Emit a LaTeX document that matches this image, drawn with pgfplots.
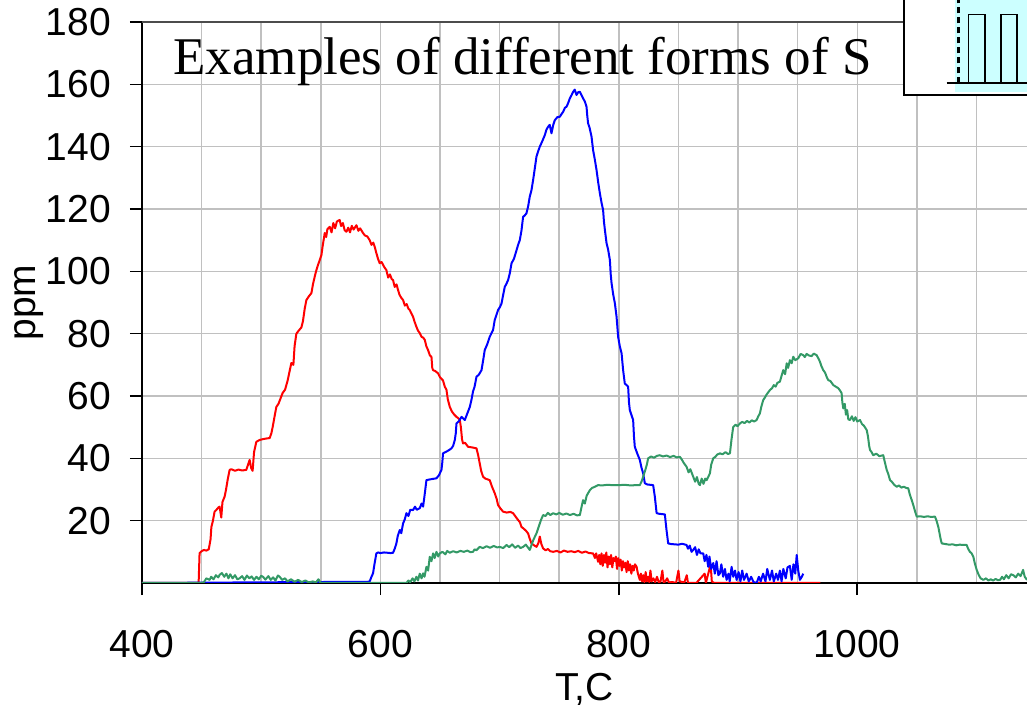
\documentclass[border=0pt]{standalone}
\usepackage{fontspec}
\setmainfont{Liberation Sans}
\newfontfamily\titlefont{Liberation Serif}
\usepackage{pgfplots}
\pgfplotsset{compat=1.18}
\definecolor{sred}{RGB}{255,0,0}
\definecolor{sblue}{RGB}{0,0,255}
\definecolor{sgreen}{RGB}{51,153,102}
\definecolor{gridgray}{RGB}{192,192,192}
\definecolor{insetcyan}{RGB}{204,255,255}
\begin{document}
\begin{tikzpicture}
\begin{axis}[
  at={(0,0)}, anchor=south west,
  scale only axis, width=442.5pt, height=280.5pt,
  xmin=400, xmax=1142.4, ymin=0, ymax=180,
  enlargelimits=false,
  axis x line*=bottom, axis y line*=left,
  axis line style={-, line width=1pt, black},
  xtick={400,600,800,1000}, xticklabels={400,600,800,1000},
  minor xtick={450,500,550,650,700,750,850,900,950,1050,1100},
  ytick={20,40,60,80,100,120,140,160,180},
  yticklabels={20,40,60,80,100,120,140,160,180},
  tick align=outside, major tick length=6pt, minor tick length=0pt,
  tick style={black, line width=0.8pt},
  grid=both,
  major grid style={gridgray, line width=0.75pt},
  minor grid style={gridgray, line width=0.75pt},
  ticklabel style={font=\fontsize{19.5}{22}\selectfont},
  xticklabel style={yshift=-14pt},
  yticklabel style={xshift=-6pt},
  xlabel={T,C}, ylabel={ppm},
  label style={font=\fontsize{19.5}{22}\selectfont},
  xlabel style={at={(axis description cs:0.5,-0.2086)}, anchor=base},
  ylabel style={at={(axis description cs:-0.1275,0.5)}, anchor=center, rotate=0},
  every axis plot/.append style={line width=1pt, line join=round},
]
% red
\addplot[sred] coordinates {
(400,0)(447.5,0)(448.3,9.6)(450,10.2)(452,10.6)(454,10.4)(456,10.8)(457.5,14)(458.2,18)(459.5,20)
(460.9,22.9)(462.5,23.5)(464,24.2)(465.1,24.5)(466.5,21)(467.5,26)(469.3,27.7)(470.5,30)(471.8,33)(473.5,36.3)
(475,36.5)(478,36)(481,36.4)(484,36.1)(487.5,36.3)(489,38)(490.3,39.5)(491.5,37)(492.8,36)(494,42)
(495.9,45.3)(498.7,45.9)(502,46.2)(505,46.4)(507.1,46.5)(508.5,48)(509.6,50)(511,53)(512.7,56.5)(514.5,57.5)
(516,59)(518,61)(520,62)(522.2,65)(523.5,67.4)(525.3,70.6)(527,70)(528,76)(529.5,80)(531.5,81)
(533.7,82)(535,84)(536.5,88)(537.9,90.8)(540,92)(542.1,93)(543.5,96)(544.9,98.3)(546,100)(547.6,102)
(549,103.5)(550.5,105.2)(551.5,108)(553.3,112.3)(554.5,111)(555.5,113.5)(557.5,114.3)(559,112.5)(560.5,115.5)(562,113.8)
(563.5,116)(565.8,116.5)(567,114.5)(568.5,115.5)(570,113.2)(571.5,112.7)(573,114)(574.5,112.5)(576,114.6)(577.5,113.4)
(579.9,114.8)(581.5,113)(583,113.8)(585.4,112.3)(587,111.5)(589,111.2)(591,110)(592.5,108.5)(594,109.2)(595.2,107.9)
(596.5,106)(598,104)(599.4,102.6)(601,103)(603,101.5)(605,100.4)(606.5,98)(608,99)(609.5,97.5)(610.6,97.2)
(612,95)(613.5,95.8)(614.8,94)(616,92.5)(617.5,91.5)(619,90.8)(620.5,89)(622,89.5)(623.5,88)(624.6,87.6)
(626,86.5)(627.4,85.4)(628.5,84)(630.2,82.2)(631.5,81)(633,80.2)(634.5,79)(636,78.7)(637.2,78)(638.5,76)
(640,74.7)(641.5,73)(642.8,72.6)(643.5,69)(644.2,68.3)(646,68)(648.3,67.3)(650,66)(652.5,65)(654,63)
(655.4,62)(656.5,59)(658.2,56.5)(660,55)(662,54)(663.8,53.3)(665,53)(666.6,52.3)(667.5,50)(668.5,46)
(669.3,44.8)(671,45)(673.5,43.7)(677,43.5)(680.6,43.2)(682,41)(683.3,38.4)(684.5,36)(686.1,34.1)(688,33.5)
(691.7,33)(693.5,31)(695.9,28.8)(697.5,27)(698.7,25)(700.5,24)(702.9,22.9)(706,22.6)(709,22.8)(711.3,22.4)
(713,21.5)(715.5,20.2)(717,19.5)(718.3,18)(720,17.5)(722,16.8)(723.9,15.9)(725,14.5)(726.7,12.7)(728.5,12.2)
(730.9,11.6)(732.5,12.8)(733.7,14.9)(735,12.5)(736.5,11.1)(738.5,10.5)(740.5,10.9)(742.5,10.2)(744.9,10)(748,10.3)
(751,9.8)(754,10.4)(757,10)(760,10.2)(763,9.9)(766,10.3)(769,9.7)(772,10.1)(775,9.6)(778.4,9.5)
(780,8)(781,9.5)(782.6,6.8)(783.5,9)(784.5,6)(785.5,9.5)(786.5,5.5)(787.5,9)(788.5,6.5)(789.5,9.8)
(790.5,5)(791.5,8.5)(792.5,6)(793.5,9)(794.5,5)(795.5,8)(796.5,7)(797.5,8.5)(798.5,4.5)(799.5,8)
(800.5,5.5)(801.5,7.5)(802.5,4)(803.5,7)(804.5,5)(805.5,6.5)(806.5,3.5)(807.5,7)(808.5,4)(809.5,6)
(810.5,3)(811.5,5.5)(812.5,4)(813.5,6)(814.9,5.2)(816,3)(817.6,1)(818.5,3)(819.5,0.5)(820.5,2.5)
(821.5,0.3)(822.5,3.5)(823.5,0.5)(824.5,2)(825.5,0.3)(826.5,4)(827.5,0.5)(829,1.5)(830.5,0.3)(832,2)
(833.5,0.2)(835,0.5)(836.5,4)(837.5,0.3)(839,0.5)(840.5,1.5)(842,0.2)(845,0.3)(848,0)(850,4)
(851,0.5)(855,0.2)(857,2.5)(858,0)(865,0)(872,3)(873,0)(877,6)(878,0.5)(880,0)(969,0)
};
% blue
\addplot[sblue] coordinates {
(400,0)(589.6,0.4)(591,0.5)(592.5,2)(593.8,3.1)(595,6)(596.6,9.5)(598,9.8)(600,9.6)(603,9.8)
(606,9.7)(608.5,9.6)(610.6,9.7)(612,11)(613.4,12.7)(614.5,15)(616.2,17)(617.5,16)(619,19.1)(620.5,20.5)
(621.8,22.4)(623.5,21.5)(625,23.5)(627.4,23.4)(629,24.5)(630.5,23.5)(633,24)(634.5,25.5)(635.8,24.5)(637,28)
(638.6,33)(641,33.2)(644,33.4)(647,33.6)(649,34.5)(651.2,36.3)(652,39)(652.5,41.6)(654.5,42)(657,42.5)
(659.6,43.2)(661,44)(662.4,45.9)(663.2,48)(663.8,51.2)(666,52)(668,53.3)(670.8,52.3)(672.5,54)(675,56.5)
(676.5,59)(677.7,61.5)(679,63)(680.6,66.2)(682.5,66.8)(684.8,68.3)(686,71)(687.5,74.7)(689.5,76.5)(691.7,79)
(693,80)(694.5,81.2)(695.9,84.4)(697.3,86)(698.7,87.6)(700.2,88.5)(701.6,89.7)(703,92.5)(704.3,95)(705.7,96)
(707.1,97.2)(708.6,99.5)(710,102.6)(712,104)(714.2,106.8)(715.5,108.5)(716.9,110)(718.3,113)(719.7,117.5)(721,117.9)
(722.5,118.6)(724,121)(725.3,124)(726.7,126)(728.1,129.3)(729.5,133)(730.9,136.8)(732.3,138.5)(733.7,140)(735.5,141.5)
(737.9,143.7)(739.3,145.5)(740.7,146.4)(742,147)(743.5,144.3)(745,147)(746.3,148.5)(748.5,149.5)(750.5,149.6)(752,150.5)
(753.3,151.2)(754.8,152.5)(756.1,152.8)(757.5,154)(758.9,155.5)(760.3,156.5)(761.7,157.6)(763,158.3)(764.5,156.6)(766,157.5)
(767.3,157.6)(768.7,156.5)(770,155.5)(771.5,154.5)(772.9,152.8)(773.5,150)(774.2,147.5)(775.5,146)(777.1,143.2)(778.4,138.9)
(779.8,136)(781.3,132.5)(782.7,128.5)(784.1,125)(785.5,122)(786.8,119.7)(787.5,116)(788.3,113.3)(789.7,109)(791,107)
(792.5,103.6)(793.2,99)(793.9,96.2)(795.3,92.5)(796.7,89.7)(798.1,85.4)(798.8,82)(799.4,79)(800.8,76)(802.3,73.7)
(803.6,68.3)(805,64)(806.5,63.5)(807.8,63)(808.5,58)(809.2,55.5)(810.5,54)(812,52.3)(812.7,47)(813.4,43.7)
(815.5,41.5)(817.6,39.5)(819,37)(820.4,35.2)(821.8,32)(824,31.6)(826.5,31.5)(828.8,31.4)(830.2,27.7)(831.7,22.4)
(834,22.2)(836.5,22.1)(838.6,22)(840,17)(841.4,12.7)(844,12.5)(847,12.4)(850,12.3)(853,12.6)(856.8,12.2)
(858,11)(859.5,12)(861,10)(862.4,10.6)(864,11.5)(865.5,9)(867,10.8)(868.5,9.5)(870.8,9.5)(872,7)
(873.5,9)(875,5.2)(876,8.5)(877.5,4.5)(879.2,6.4)(880.5,3)(882,7)(883.5,2.5)(884.8,3.1)(886,6)
(887.5,2)(889,4.5)(890.4,1)(892,3)(893,0.5)(894.6,5.2)(896,2)(897.5,4)(898.8,1)(900.5,3.5)
(902,0.5)(903.5,4)(905,1)(907.2,3)(909,0.5)(911,2)(913,0.3)(915.6,0)(917.5,2)(919,0.5)
(921,3)(923,0.5)(924.5,4.5)(926.7,1)(928.5,4)(930,0.5)(932,3)(933.5,1)(935.1,4)(936.5,0.5)
(938,4.5)(940,1.5)(941.5,5)(943.5,5.5)(945,1)(946.5,6)(948,3)(949.2,9)(950.5,4)(951.9,1)
(953.5,2)(954.7,3)
};
% green
\addplot[sgreen] coordinates {
(400,0)(450,0)(452,0.3)(454,1.5)(456.7,1)(458,2)(460,1.2)(462,2.5)(464,1.8)(465.1,2.6)
(467,3.2)(469,2)(470.8,3)(472.5,1.5)(474,2.8)(476,1.5)(478,2.5)(480,1.2)(481.9,1.5)(484,2.2)
(486,1)(488,2.4)(490,1.5)(492,2.1)(494,1)(496,2)(498,1.2)(500,2.3)(501.5,2)(503.5,1.1)
(506,2.2)(508,1)(510,1.8)(512,0.8)(514,2.4)(515.5,2)(517.5,1)(520,1.5)(522,0.5)(525,1.2)
(528,0.4)(531,1)(534,0.3)(537,0.8)(540,0.2)(543.2,0.5)(546,0.2)(548,1.2)(550,0)(621.8,0)
(623.5,0.8)(625,0.3)(627,1.5)(628.5,0.5)(630.2,2)(631.5,0.8)(633,3)(634.5,1.5)(635.8,3.1)(637,2)
(638.6,5.2)(640,4)(641.4,8.4)(642.8,7)(644.2,9.5)(645.5,8)(647,10)(648.5,8.5)(649.8,9.5)(652,10)
(654.5,9.2)(656,10.3)(658.2,9.7)(661,10.2)(664,9.8)(667,10.3)(670,10)(673,10.4)(675.5,9.9)(677.7,10)
(679,10.8)(680.5,10.5)(683.3,11.6)(686,11.2)(689,11.8)(692,11.3)(695,11.9)(698,11.4)(700.1,11.6)(703,11.2)
(705.8,12.2)(708,11.5)(710.5,12.4)(713,11.3)(715.5,12)(717.5,11.2)(719.7,11.6)(722,12.3)(725.3,10.6)(727,12.5)
(728.5,14)(730.9,15.9)(732.3,17.5)(733.7,19.1)(735,20.5)(736.5,21.8)(738.5,21.5)(740.5,22.5)(742.5,21.8)(744.9,22.4)
(747.5,22)(750,22.5)(753,21.9)(756,22.3)(759,21.8)(762,22.2)(765,21.7)(767.3,21.8)(768.5,24)(770,26.6)
(771.5,25.5)(773,28)(775.7,29.8)(777.5,30.5)(779.5,30.8)(782.6,31.4)(786,31.3)(790,31.5)(795,31.4)(800,31.4)
(805,31.5)(810,31.3)(814,31.4)(817.6,31.4)(819,32.5)(820.4,34.1)(822,36)(823.5,38)(824.6,40)(827,40.6)
(829.5,40.2)(832,40.8)(834.4,41)(837,40.6)(840,40.9)(843,40.4)(846,40.8)(848.5,40.3)(851.2,40.5)(853,39.5)
(854.5,38.5)(856.8,37.3)(858.5,35.5)(860,36.5)(862.4,34.1)(864,32.5)(865.5,34)(867,31.8)(868,31.4)(869.5,33.5)
(871,31.8)(872.5,33.5)(873.6,33)(875,34)(876.4,35.2)(877.5,38)(879.2,40)(881,40.5)(882.5,41.2)(884.8,41.6)
(887,41.3)(889.5,42)(891.5,41.4)(893.2,41.6)(894.5,46)(895.9,50)(898,50.8)(899.5,50.3)(901.6,51.2)(903.5,51.7)
(905.5,51.3)(907.5,52)(909.5,51.5)(911.5,52.2)(913.5,51.8)(915.6,52.3)(917,53.5)(918.3,54.4)(919.5,56.5)(921.1,58.7)
(922.5,59.5)(924,60.5)(926.7,61.9)(928.5,62.5)(930,63.5)(931.5,63)(933,64.2)(935.1,64.6)(937.9,68.3)(939.5,67)
(940.8,70.5)(942,69)(943.5,71.5)(945,70.5)(946.3,72.6)(948,71.5)(950.5,72.1)(952.5,73.5)(954.7,73.1)(956,72.5)
(957.5,73.5)(959.5,73)(961.7,72.8)(963.5,73.6)(965.9,73.1)(967.5,72)(968.7,71)(970,69.5)(971.5,68.3)(973,67.5)
(974.5,66)(975.7,65.1)(977.5,64.8)(979.9,63.5)(982,63)(984.1,62.5)(985.5,61.8)(986.9,60.9)(987.5,58)(988.3,56)
(989.5,57.5)(990.5,54)(991.5,55.5)(992.5,52.5)(993.9,52.3)(995.5,53.5)(997,52)(998.5,53.2)(1000,51.8)(1002.3,52.3)
(1004,51)(1005.5,50.5)(1007.9,49.1)(1009,47)(1010,44)(1010.7,42.7)(1012,42)(1013.4,41)(1016,41.5)(1018.5,40.7)
(1021.8,41)(1023,39)(1024.7,36.3)(1026,35)(1027.5,33)(1029,32.5)(1031,31.5)(1033.1,30.9)(1035,31.3)(1037,30.6)
(1039,30.9)(1041,30.5)(1042.8,30.4)(1044,28.5)(1045.7,26.6)(1047,25)(1048.5,23)(1049.9,21.3)(1053,21.4)(1056,21.2)
(1059,21.4)(1062,21.2)(1065.2,21.3)(1066.5,20)(1068,18)(1069,16)(1070,14)(1070.9,12.7)(1074,12.5)(1077,12.3)
(1080,12.4)(1083,12.1)(1086,12.3)(1089,12.2)(1091.8,12.2)(1093,11)(1094.5,10)(1096,9.5)(1097.4,8.4)(1098.5,6.5)
(1100.2,4.2)(1102,2.5)(1103.5,1.5)(1105.8,1)(1108,1.5)(1110,0.8)(1112,1.2)(1114,0.8)(1116,1.3)(1118,0.9)
(1119.8,1)(1121.5,2)(1123,1.2)(1125,2.5)(1127,1.5)(1129,2.8)(1131,2.5)(1133,1.8)(1135,3)(1137,2.2)
(1139.1,4.2)(1140.5,2)(1142.4,1)
};
\draw[black!70, line width=0.75pt] (rel axis cs:0,1) -- (rel axis cs:1,1);
\end{axis}
% title
\node[anchor=base west, inner sep=0pt, font=\titlefont\fontsize{26.5}{30}\selectfont] at (15.5pt,254pt) {Examples of different forms of S};
% inset (cropped legend box)
\fill[white] (381pt,244pt) rectangle (460pt,300pt);
\fill[insetcyan] (406.5pt,245.6pt) rectangle (460pt,300pt);
\draw[black, line width=1pt] (381pt,300pt) -- (381pt,244pt) -- (460pt,244pt);
\draw[black, line width=0.9pt] (402.3pt,249.8pt) -- (460pt,249.8pt);
\draw[black, line width=1.6pt, dash pattern=on 3pt off 2pt] (408.2pt,249.8pt) -- (408.2pt,292pt);
\draw[black, line width=0.8pt] (413.2pt,249.8pt) rectangle (421.6pt,284.2pt);
\draw[black, line width=0.8pt] (429.4pt,249.8pt) rectangle (437.4pt,284.2pt);
\pgfresetboundingbox
\useasboundingbox (-71pt,-64pt) rectangle (442.5pt,291.5pt);
\end{tikzpicture}
\end{document}
